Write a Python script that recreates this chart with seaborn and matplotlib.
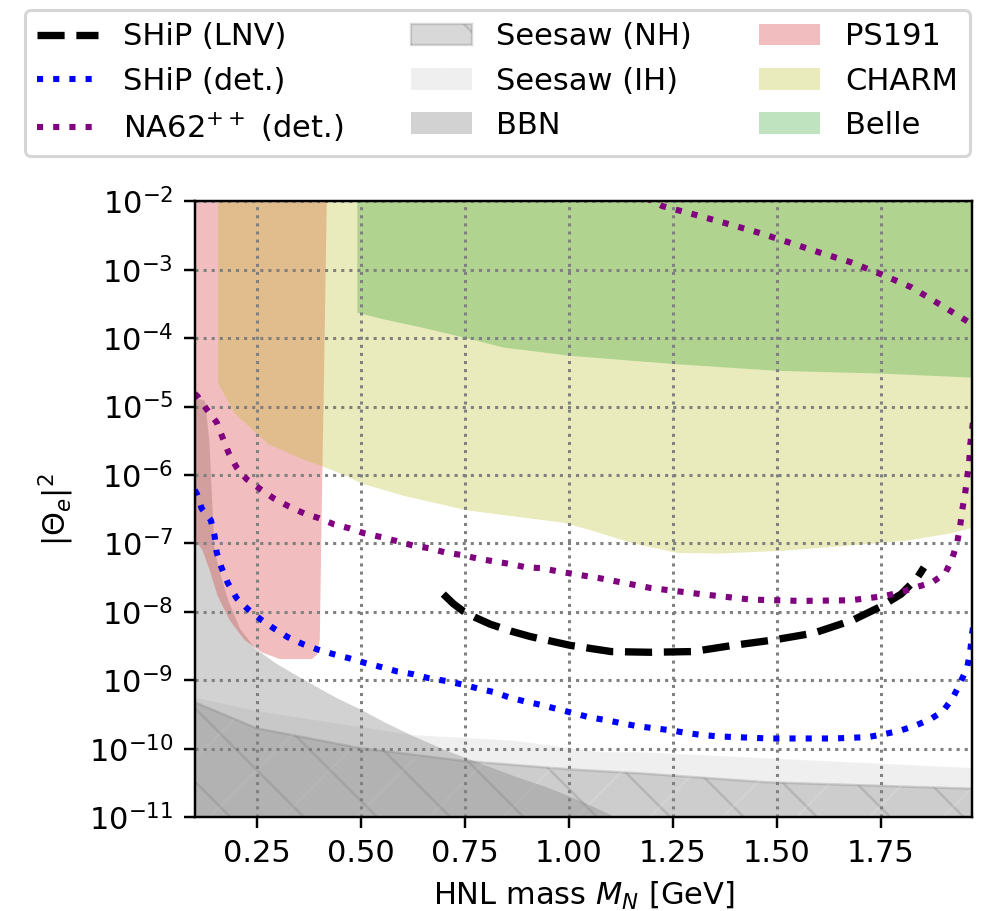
import numpy as np
import matplotlib
matplotlib.use("Agg")
import matplotlib.pyplot as plt
import seaborn as sns
import pandas as pd

# ---------------- data (log10 of |Theta_e|^2) ----------------
# SHiP (LNV)
lnv_m = [0.698, 0.722, 0.746, 0.778, 0.811, 0.860, 0.907, 1.004, 1.102, 1.196, 1.298, 1.394, 1.493, 1.589,
         1.683, 1.751, 1.799, 1.837, 1.854]
lnv_lg = [-7.74, -7.88, -7.99, -8.09, -8.18, -8.28, -8.36, -8.49, -8.58, -8.59, -8.58, -8.49, -8.41, -8.31,
          -8.12, -7.92, -7.74, -7.51, -7.35]

# SHiP (det.)
shipdet_m = [0.100, 0.105, 0.117, 0.139, 0.148, 0.153, 0.165, 0.180, 0.201, 0.228, 0.259, 0.290, 0.324, 0.360,
             0.396, 0.435, 0.473, 0.512, 0.551, 0.587, 0.625, 0.664, 0.705, 0.743, 0.782, 0.818, 0.857, 0.895,
             0.934, 0.972, 1.011, 1.049, 1.088, 1.129, 1.165, 1.204, 1.245, 1.283, 1.322, 1.360, 1.401, 1.481,
             1.558, 1.637, 1.719, 1.755, 1.794, 1.830, 1.869, 1.900, 1.924, 1.941, 1.958, 1.965, 1.970, 1.975]
shipdet_lg = [-6.22, -6.27, -6.49, -6.66, -6.89, -7.13, -7.36, -7.58, -7.80, -7.96, -8.11, -8.24, -8.37, -8.47,
              -8.55, -8.62, -8.68, -8.75, -8.81, -8.87, -8.91, -8.97, -9.01, -9.06, -9.12, -9.17, -9.25, -9.31,
              -9.36, -9.42, -9.48, -9.54, -9.58, -9.63, -9.67, -9.70, -9.73, -9.77, -9.80, -9.82, -9.83, -9.85,
              -9.85, -9.85, -9.83, -9.79, -9.74, -9.67, -9.57, -9.45, -9.25, -9.04, -8.81, -8.59, -8.31, -8.10]

# NA62++ (det.) lower branch
na62_m = [0.100, 0.107, 0.129, 0.153, 0.167, 0.182, 0.201, 0.225, 0.259, 0.290, 0.327, 0.363, 0.399, 0.435,
          0.473, 0.507, 0.551, 0.589, 0.625, 0.664, 0.702, 0.743, 0.780, 0.818, 0.859, 0.898, 0.934, 0.975,
          1.076, 1.196, 1.317, 1.437, 1.558, 1.678, 1.758, 1.799, 1.835, 1.873, 1.905, 1.922, 1.934, 1.941,
          1.946, 1.953, 1.958, 1.963, 1.965, 1.970, 1.975]
na62_lg = [-4.81, -4.85, -5.04, -5.23, -5.45, -5.68, -5.89, -6.06, -6.21, -6.34, -6.46, -6.56, -6.63, -6.72,
           -6.78, -6.85, -6.91, -6.97, -7.03, -7.07, -7.13, -7.17, -7.22, -7.26, -7.30, -7.35, -7.36, -7.41,
           -7.51, -7.65, -7.74, -7.82, -7.84, -7.83, -7.77, -7.71, -7.64, -7.57, -7.44, -7.22, -6.98, -6.75,
           -6.51, -6.27, -6.03, -5.80, -5.57, -5.32, -5.05]
# NA62++ (det.) upper branch
na62_up_m = [1.185, 1.225, 1.300, 1.377, 1.452, 1.529, 1.604, 1.678, 1.753, 1.825, 1.893, 1.963, 1.980]
na62_up_lg = [-1.95, -2.07, -2.19, -2.32, -2.45, -2.60, -2.75, -2.89, -3.07, -3.26, -3.51, -3.77, -3.84]

# Seesaw bounds (upper edges)
nh_m = [0.100, 0.249, 0.498, 0.751, 0.999, 1.172, 1.478, 2.000]
nh_lg = [-9.32, -9.70, -9.99, -10.18, -10.30, -10.36, -10.49, -10.59]
ih_m = [0.100, 0.250, 0.625, 0.866, 1.076, 1.172, 1.478, 2.000]
ih_lg = [-9.25, -9.45, -9.80, -9.88, -10.05, -10.05, -10.14, -10.29]

# BBN upper edge
bbn_m = [0.100, 0.124, 0.134, 0.141, 0.146, 0.155, 0.180, 0.208, 0.245, 0.293, 0.329, 0.384, 0.440, 0.498,
         0.560, 0.625, 0.700, 0.787, 0.870, 0.948, 1.020, 1.093, 1.124]
bbn_lg = [-4.86, -4.91, -5.49, -6.37, -7.03, -7.32, -7.83, -8.24, -8.53, -8.74, -8.87, -9.06, -9.25, -9.42,
          -9.62, -9.81, -10.01, -10.21, -10.40, -10.56, -10.74, -10.94, -11.05]

# PS191 outline
ps191_m = [0.100, 0.418, 0.411, 0.406, 0.401, 0.394, 0.382, 0.305, 0.261, 0.220, 0.184, 0.155, 0.136, 0.119,
           0.105, 0.100]
ps191_lg = [-1.90, -1.90, -4.62, -6.37, -8.41, -8.63, -8.69, -8.69, -8.59, -8.41, -8.12, -7.76, -7.39, -7.10,
            -6.98, -6.95]

# CHARM lower edge
charm_m = [0.155, 0.155, 0.196, 0.276, 0.358, 0.408, 0.461, 0.502, 0.604, 0.755, 0.857, 0.987, 1.057, 1.158,
           1.259, 1.360, 1.512, 1.661, 1.813, 1.914, 1.972, 2.000]
charm_lg = [-1.90, -4.65, -5.10, -5.54, -5.76, -5.87, -6.00, -6.12, -6.30, -6.51, -6.59, -6.69, -6.81, -7.00,
            -7.13, -7.14, -7.10, -7.03, -6.95, -6.85, -6.76, -6.70]

# Belle lower edge
belle_m = [0.490, 0.490, 0.548, 0.647, 0.751, 0.842, 1.001, 1.249, 1.500, 1.751, 1.972, 2.000]
belle_lg = [-1.90, -3.62, -3.71, -3.84, -3.99, -4.13, -4.25, -4.37, -4.47, -4.51, -4.57, -4.58]

xticks = [0.25, 0.50, 0.75, 1.00, 1.25, 1.50, 1.75]

# ---------------- style ----------------
sns.set_style("ticks", {"axes.edgecolor": "black", "xtick.color": "black", "ytick.color": "black",
                        "text.color": "black", "axes.labelcolor": "black"})
plt.rcParams["font.family"] = ["DejaVu Sans"]
plt.rcParams["font.size"] = 10
plt.rcParams["hatch.linewidth"] = 0.8

fig = plt.figure(figsize=(988 / 220, 911 / 220), dpi=220)
ax = fig.add_axes([0.197, 0.103, 0.984 - 0.197, 0.779 - 0.103])
ax.set_yscale("log")

p = lambda v: np.power(10.0, np.asarray(v))
floor = 1e-12
ceil = 1e-1

# background regions
nh = ax.fill_between(nh_m, floor, p(nh_lg), facecolor="gray", alpha=0.3, hatch="\\",
                     edgecolor="gray", linewidth=0.8, label="Seesaw (NH)", zorder=1)
ih = ax.fill_between(ih_m, floor, p(ih_lg), facecolor="gray", alpha=0.12, hatch="/",
                     edgecolor="white", linewidth=0.8, label="Seesaw (IH)", zorder=1)
bbn = ax.fill_between(bbn_m, floor, p(bbn_lg), facecolor="gray", alpha=0.35, linewidth=0,
                      label="BBN", zorder=1)
ps = ax.fill(ps191_m, p(ps191_lg), color="tab:red", alpha=0.3, linewidth=0, label="PS191", zorder=1)[0]
ch = ax.fill_between(charm_m, p(charm_lg), ceil, color="tab:olive", alpha=0.3, linewidth=0,
                     label="CHARM", zorder=1)
be = ax.fill_between(belle_m, p(belle_lg), ceil, color="tab:green", alpha=0.3, linewidth=0,
                     label="Belle", zorder=1)

# lines
df_lnv = pd.DataFrame({"m": lnv_m, "u": p(lnv_lg)})
df_sd = pd.DataFrame({"m": shipdet_m, "u": p(shipdet_lg)})
df_na = pd.DataFrame({"m": na62_m, "u": p(na62_lg)})
df_nau = pd.DataFrame({"m": na62_up_m, "u": p(na62_up_lg)})

sns.lineplot(data=df_lnv, x="m", y="u", ax=ax, color="black", lw=2.4, ls="--", sort=False,
             estimator=None, label="SHiP (LNV)", zorder=4)
sns.lineplot(data=df_sd, x="m", y="u", ax=ax, color="blue", lw=2.0, ls=":", sort=False,
             estimator=None, label="SHiP (det.)", zorder=4)
sns.lineplot(data=df_na, x="m", y="u", ax=ax, color="purple", lw=2.0, ls=":", sort=False,
             estimator=None, label="NA62$^{++}$ (det.)", zorder=4)
sns.lineplot(data=df_nau, x="m", y="u", ax=ax, color="purple", lw=2.0, ls=":", sort=False,
             estimator=None, legend=False, zorder=4)

ax.set_xlim(0.1, 1.97)
ax.set_ylim(1e-11, 1e-2)
ax.set_xticks(xticks)
ax.set_xticklabels([f"{t:.2f}" for t in xticks])
ax.yaxis.set_major_locator(matplotlib.ticker.LogLocator(base=10, numticks=20))
ax.yaxis.set_minor_locator(matplotlib.ticker.NullLocator())
ax.grid(True, which="major", ls=":", color="gray", lw=1.0, zorder=3)
ax.set_axisbelow(False)
ax.set_xlabel("HNL mass $M_N$ [GeV]")
ax.set_ylabel(r"$|\Theta_e|^2$")
for s in ax.spines.values():
    s.set_visible(True)
    s.set_zorder(5)

handles, labels = ax.get_legend_handles_labels()
order = ["SHiP (LNV)", "SHiP (det.)", "NA62$^{++}$ (det.)", "Seesaw (NH)", "Seesaw (IH)", "BBN",
         "PS191", "CHARM", "Belle"]
hmap = dict(zip(labels, handles))
ax.legend([hmap[l] for l in order], order, ncol=3, mode="expand", loc="upper left",
          bbox_to_anchor=(25 / 988, 0.5, 945 / 988, 1 - 10 / 911 - 0.5),
          bbox_transform=fig.transFigure, borderaxespad=0, frameon=True)

fig.savefig("out.png", dpi=220)
